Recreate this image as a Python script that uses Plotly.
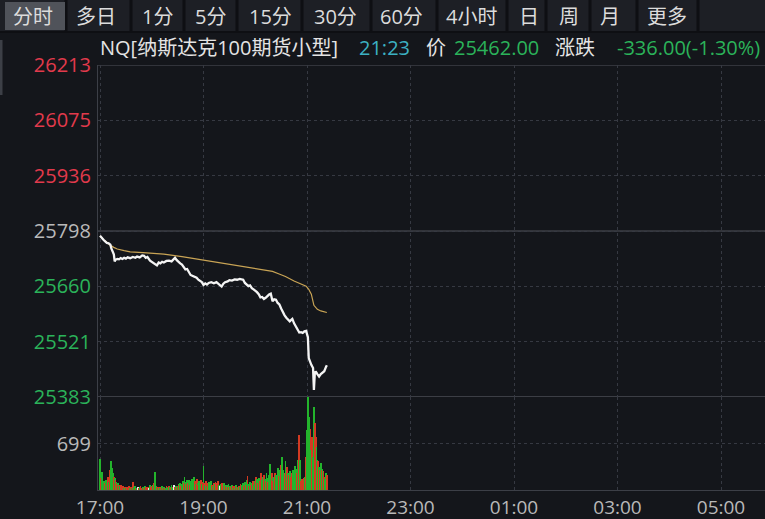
import plotly.graph_objects as go
from plotly.subplots import make_subplots
import pandas as pd

# ---------------- data ----------------
price_times = ["17:00","17:02","17:04","17:06","17:08","17:10","17:12","17:13","17:14","17:16",
               "17:17","17:18","17:20","17:22","17:24","17:26","17:28","17:30","17:32","17:35",
               "17:38","17:41","17:43","17:46","17:49","17:51","17:53","17:55","17:58","18:00",
               "18:02","18:04","18:06","18:08","18:10","18:12","18:14","18:17","18:20","18:23",
               "18:25","18:27","18:29","18:31","18:33","18:35","18:37","18:39","18:41","18:43",
               "18:45","18:47","18:49","18:52","18:54","18:56","18:58","19:00","19:02","19:04",
               "19:06","19:09","19:12","19:15","19:17","19:19","19:21","19:23","19:25","19:28",
               "19:30","19:33","19:36","19:39","19:42","19:44","19:46","19:48","19:50","19:52",
               "19:54","19:56","19:58","20:00","20:02","20:04","20:06","20:08","20:10","20:12",
               "20:14","20:16","20:18","20:19","20:20","20:22","20:24","20:26","20:28","20:30",
               "20:32","20:34","20:36","20:38","20:40","20:42","20:43","20:45","20:47","20:49",
               "20:51","20:53","20:55","20:57","20:59","21:00","21:01","21:02","21:03","21:05",
               "21:07","21:08","21:09","21:10","21:12","21:14","21:16","21:18","21:20","21:22","21:23"]
price_values = [25786,25780,25776,25772,25768,25767,25764,25755,25749,25740,
                25722,25726,25728,25727,25730,25728,25731,25729,25732,25730,
                25733,25731,25734,25732,25737,25736,25731,25733,25724,25721,
                25719,25714,25712,25719,25717,25721,25719,25723,25724,25722,
                25727,25731,25725,25720,25717,25714,25706,25702,25703,25697,
                25688,25686,25684,25681,25676,25673,25670,25663,25667,25664,
                25668,25670,25667,25670,25667,25663,25659,25666,25670,25672,
                25675,25674,25677,25676,25678,25677,25676,25668,25664,25660,
                25662,25655,25652,25649,25645,25640,25632,25633,25628,25631,
                25636,25639,25641,25628,25622,25627,25626,25618,25614,25604,
                25594,25587,25581,25576,25572,25576,25578,25567,25559,25550,
                25544,25545,25543,25547,25548,25540,25532,25480,25472,25463,
                25455,25400,25440,25447,25440,25434,25440,25444,25447,25458,25462]

avg_times = ["17:00","17:02","17:05","17:08","17:12","17:16","17:20","17:28","17:35","17:50",
             "18:14","18:35","18:52","19:14","19:30","19:47","20:07","20:20","20:27","20:35",
             "20:45","20:52","20:59","21:02","21:05","21:08","21:12","21:16","21:20","21:23"]
avg_values = [25786,25780,25774,25770,25762,25757,25753,25749,25746,25744,
              25740,25734,25728,25720,25715,25710,25703,25697,25691,25684,
              25673,25666,25660,25652,25640,25612,25602,25598,25595,25594]

# one volume bar per minute from 17:00 to 21:23
volume_values = [470,180,275,120,90,140,100,150,80,200,
                 120,250,300,440,330,260,200,180,150,120,
                 90,110,70,60,80,50,40,60,30,45,
                 35,50,25,40,60,30,45,35,120,40,
                 30,55,25,35,50,30,40,60,25,35,
                 45,30,60,40,25,35,50,30,70,40,
                 55,80,45,100,275,60,40,30,50,35,
                 25,45,60,30,40,20,35,55,30,45,
                 60,40,30,70,50,35,80,45,60,40,
                 55,90,70,110,60,85,130,100,200,120,
                 90,150,110,150,70,130,100,160,120,195,
                 140,90,170,110,80,130,100,150,90,120,
                 365,110,80,140,60,100,120,70,90,130,
                 80,60,110,90,120,70,100,135,80,60,
                 90,110,50,70,100,60,80,40,70,90,
                 50,60,45,80,55,35,60,40,70,50,
                 45,65,40,90,55,70,100,60,120,80,
                 150,210,90,60,120,80,100,140,70,110,
                 130,200,160,110,180,140,120,255,150,190,
                 230,170,140,250,180,120,220,395,160,250,
                 180,140,200,260,230,170,330,210,250,300,
                 380,490,300,200,250,430,300,350,260,220,
                 280,200,180,250,300,240,355,320,260,380,
                 455,820,455,140,160,120,180,150,200,500,
                 900,1415,1100,700,920,600,800,500,1250,1000,
                 800,650,450,430,350,300,400,300,320,280,
                 200,170,260,230]
# r = up (red), g = down (green), w = flat (white)
volume_dirs = ("grggrgrggr" "ggrgggrgrg" "rgrgrrgrgr" "grrgrgrgrg" "rgrgwrgrgr"
               "grgrrgrwgr" "rggrggrgrg" "grgrgrgrgg" "rgrgrgwrgr" "ggrgrggrgg"
               "rgrgrgrggg" "rgrgrggrgr" "grgrgrggrg" "rgrgrgrrgw" "grgrgrgrgg"
               "rgrgrgrwgr" "grgrgggrgr" "grgrgrgrgg" "grgrgrgrgg" "rgrggrgggr"
               "grgrgggrgg" "rgggrggrgr" "grgrggggrg" "grgrrrrggr" "ggggrgrggr"
               "rggrgrgrgr" "rggr")

prev_close = 25798
price_ticks = [25383, 25521, 25660, 25798, 25936, 26075, 26213]
volume_tick = 699
x_tick_labels = ["17:00", "19:00", "21:00", "23:00", "01:00", "03:00", "05:00"]
tabs = ["分时", "多日", "1分", "5分", "15分", "30分", "60分", "4小时", "日", "周", "月", "更多"]
title_name = "NQ[纳斯达克100期货小型]"
title_time = "21:23"
last_price = "25462.00"
change_text = "-336.00(-1.30%)"

# ---------------- helpers ----------------
DAY = "2025-11-20 "
NEXT = "2025-11-21 "
def to_dt(t):
    h = int(t.split(":")[0])
    return pd.Timestamp((DAY if h >= 17 else NEXT) + t)

W, H = 765, 519
L, R, T, B = 98, 0, 65, 29
PW, PH = W - L - R, H - T - B
def px(x): return (x - L) / PW
def py(y): return (H - B - y) / PH

BG = "#14161b"
GRID = "#363942"
RED = "#e23a4c"
GREEN = "#2bb35a"
GRAY = "#b9b9b9"
FONT = "Open Sans, Noto Sans CJK SC"

vol_frac = (490 - 397) / PH

fig = make_subplots(rows=2, cols=1, shared_xaxes=True, vertical_spacing=0,
                    row_heights=[1 - vol_frac, vol_frac])

fig.add_trace(go.Scatter(x=[to_dt(t) for t in avg_times], y=avg_values, mode="lines",
                         line=dict(color="#c9a455", width=1.2), hoverinfo="skip"), row=1, col=1)
fig.add_trace(go.Scatter(x=[to_dt(t) for t in price_times], y=price_values, mode="lines",
                         line=dict(color="#f4f4f4", width=2.3), hoverinfo="skip"), row=1, col=1)

start = to_dt("17:00")
vol_x = [start + pd.Timedelta(minutes=i) for i in range(len(volume_values))]
cmap = {"r": "#d23a22", "g": "#23b42c", "w": "#e8e8e8"}
fig.add_trace(go.Bar(x=vol_x, y=volume_values, width=55000,
                     marker=dict(color=[cmap[c] for c in volume_dirs], line=dict(width=0)),
                     hoverinfo="skip"), row=2, col=1)

def tick_color(v):
    if v > prev_close: return RED
    if v < prev_close: return GREEN
    return GRAY

xrange = [pd.Timestamp(DAY + "16:57:40"), pd.Timestamp(NEXT + "05:51:00")]
xtickvals = [to_dt(t) for t in x_tick_labels]
axis_common = dict(showgrid=True, gridcolor=GRID, griddash="dot", gridwidth=1,
                   zeroline=False, fixedrange=True, automargin=False)
fig.update_xaxes(range=xrange, tickvals=xtickvals, ticktext=x_tick_labels, **axis_common)
fig.update_xaxes(showticklabels=False, ticks="", row=1, col=1)
fig.update_xaxes(showticklabels=True, ticks="", tickfont=dict(family=FONT, size=19, color=GRAY),
                 showline=True, linecolor="#3c3f47", linewidth=1, row=2, col=1)

fig.update_yaxes(range=[25382.6, 26213.4], tickvals=price_ticks,
                 ticktext=[f'<span style="color:{tick_color(v)}">{v}</span>' for v in price_ticks],
                 tickfont=dict(family=FONT, size=20, color=GRAY), ticks="outside", ticklen=2,
                 tickcolor=BG, showline=True, linecolor="#3c3f47", linewidth=1,
                 row=1, col=1, **axis_common)
fig.update_yaxes(range=[0, volume_tick * 2], tickvals=[volume_tick], ticktext=[str(volume_tick)],
                 tickfont=dict(family=FONT, size=20, color=GRAY), ticks="outside", ticklen=2,
                 tickcolor=BG, showline=True, linecolor="#3c3f47", linewidth=1,
                 row=2, col=1, **axis_common)

shapes = []
# solid reference lines: top border, previous close, panel separator
for v, col in [(price_ticks[-1], "#3c3f47"), (prev_close, "#50535b"), (price_ticks[0], "#4a4d55")]:
    shapes.append(dict(type="line", xref="paper", x0=0, x1=1, yref="y", y0=v, y1=v,
                       line=dict(color=col, width=1.2), layer="below"))
# tab bar
shapes.append(dict(type="rect", xref="paper", yref="paper", x0=px(0), x1=px(W), y0=py(31), y1=py(0),
                   fillcolor="#1d1f25", line=dict(width=0), layer="below"))
tab_seps = [66, 131, 184, 237, 302, 371, 437, 507, 546, 590, 637, 698]
for s in tab_seps:
    shapes.append(dict(type="rect", xref="paper", yref="paper", x0=px(s - 1.5), x1=px(s + 1.5),
                       y0=py(31), y1=py(0), fillcolor="#0e0f13", line=dict(width=0), layer="below"))
shapes.append(dict(type="rect", xref="paper", yref="paper", x0=px(0), x1=px(W), y0=py(33), y1=py(31),
                   fillcolor="#0e0f13", line=dict(width=0), layer="below"))
shapes.append(dict(type="rect", xref="paper", yref="paper", x0=px(5), x1=px(65), y0=py(30), y1=py(2),
                   fillcolor="#50535a", line=dict(width=0), layer="below"))
shapes.append(dict(type="rect", xref="paper", yref="paper", x0=px(0), x1=px(2.5), y0=py(95), y1=py(40),
                   fillcolor="#3c3f46", line=dict(width=0), layer="below"))

annotations = []
tab_centers = [33, 96, 157, 210, 270, 335, 401, 471, 529, 569, 610, 667]
for t, c in zip(tabs, tab_centers):
    annotations.append(dict(text=t, x=px(c), y=py(16), xref="paper", yref="paper", showarrow=False,
                            xanchor="center", yanchor="middle",
                            font=dict(family=FONT, size=20, color="#dcdcdc")))
title_parts = [(title_name, 98, "#e4e4e4"), (title_time, 357, "#3cb1c3"), ("价", 424, "#e4e4e4"),
               (last_price, 452, GREEN), ("涨跌", 553, "#e4e4e4")]
for text, x, col in title_parts:
    annotations.append(dict(text=text, x=px(x), y=py(47), xref="paper", yref="paper", showarrow=False,
                            xanchor="left", yanchor="middle",
                            font=dict(family=FONT, size=20, color=col)))
annotations.append(dict(text=change_text, x=px(762), y=py(47), xref="paper", yref="paper",
                        showarrow=False, xanchor="right", yanchor="middle",
                        font=dict(family=FONT, size=20, color=GREEN)))

fig.update_layout(width=W, height=H, margin=dict(l=L, r=R, t=T, b=B, autoexpand=False),
                  paper_bgcolor=BG, plot_bgcolor=BG, showlegend=False, bargap=0,
                  shapes=shapes, annotations=annotations, hovermode=False)

fig.write_html("out.html", config={"displayModeBar": False},
               post_script="document.body.style.margin='0';document.body.style.background='#14161b';")
